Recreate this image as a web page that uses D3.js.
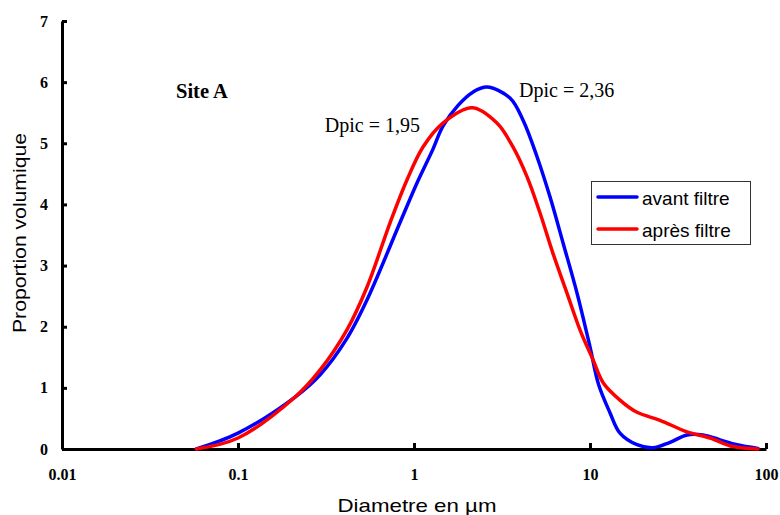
<!DOCTYPE html>
<html>
<head>
<meta charset="utf-8">
<script src="https://cdn.jsdelivr.net/npm/d3@7"></script>
<style>
  html, body { margin: 0; padding: 0; background: #fff; }
  svg { display: block; }
</style>
</head>
<body>
<svg id="chart" width="780" height="515"></svg>
<script>
// ---- data ----
const xTicks = [0.01, 0.1, 1, 10, 100];
const xTickLabels = ["0.01", "0.1", "1", "10", "100"];
const yTicks = [0, 1, 2, 3, 4, 5, 6, 7];

const diamAvant = [0.058, 0.1, 0.211, 0.292, 0.416, 0.541, 0.832, 1.04, 1.28, 1.46, 1.78, 2.17, 2.60, 3.51, 4.16, 5.0, 5.93, 7.03, 8.44, 10, 11.2, 13.0, 14.8, 18.5, 22.8, 28.5, 35.6, 43.8, 54.8, 68.4, 90];
const valAvant  = [0, 0.26, 0.85, 1.21, 1.81, 2.44, 3.7, 4.35, 4.9, 5.28, 5.62, 5.84, 5.92, 5.74, 5.38, 4.78, 4.12, 3.37, 2.55, 1.67, 1.05, 0.59, 0.26, 0.07, 0.02, 0.11, 0.23, 0.23, 0.15, 0.07, 0.01];

const diamApres = [0.058, 0.1, 0.211, 0.292, 0.416, 0.541, 0.731, 0.912, 1.125, 1.46, 2.14, 2.96, 3.65, 4.39, 5.2, 6.16, 7.40, 8.77, 10.4, 11.9, 14.8, 18.5, 25.0, 35.6, 48.1, 64.9, 90];
const valApres  = [0, 0.18, 0.85, 1.29, 1.95, 2.65, 3.7, 4.4, 4.94, 5.33, 5.58, 5.33, 4.94, 4.45, 3.86, 3.2, 2.55, 1.95, 1.46, 1.08, 0.8, 0.6, 0.47, 0.28, 0.18, 0.04, 0];

const seriesNames = ["avant filtre", "après filtre"];
const seriesColors = ["#0000ff", "#ff0000"];

// ---- chart ----
const svg = d3.select("#chart");
const x = d3.scaleLog().domain([0.01, 100]).range([62, 766]);
const y = d3.scaleLinear().domain([0, 7]).range([449, 21]);

const serif = "'Liberation Serif','Times New Roman',serif";
const sans = "'Liberation Sans',Arial,sans-serif";

// axes
const xAxis = d3.axisBottom(x).tickValues(xTicks)
  .tickFormat((d, i) => xTickLabels[i]).tickSizeInner(-6).tickSizeOuter(0).tickPadding(20);
const yAxis = d3.axisLeft(y).tickValues(yTicks)
  .tickFormat(d3.format("d")).tickSizeInner(-5).tickSizeOuter(0).tickPadding(14);

const gx = svg.append("g").attr("transform", "translate(0,449)").call(xAxis);
const gy = svg.append("g").attr("transform", "translate(62,0)").call(yAxis);

[gx, gy].forEach(g => {
  g.select(".domain").attr("stroke", "#000").attr("stroke-width", 3);
  g.selectAll(".tick line").attr("stroke", "#000").attr("stroke-width", 3);
  g.selectAll(".tick text").attr("fill", "#000")
    .style("font-family", serif).style("font-weight", "bold").style("font-size", "16px");
});

// lines
const line = d3.line().x(d => x(d[0])).y(d => Math.min(y(0), y(d[1])))
  .curve(d3.curveCatmullRom.alpha(0.5));
const dataAvant = diamAvant.map((d, i) => [d, valAvant[i]]);
const dataApres = diamApres.map((d, i) => [d, valApres[i]]);

svg.append("path").datum(dataAvant).attr("d", line)
  .attr("fill", "none").attr("stroke", seriesColors[0]).attr("stroke-width", 3.5)
  .attr("stroke-linejoin", "round").attr("stroke-linecap", "round");
svg.append("path").datum(dataApres).attr("d", line)
  .attr("fill", "none").attr("stroke", seriesColors[1]).attr("stroke-width", 3.5)
  .attr("stroke-linejoin", "round").attr("stroke-linecap", "round");

// axis titles
svg.append("text").attr("transform", "translate(26,233) rotate(-90)")
  .attr("text-anchor", "middle").style("font-family", sans).style("font-size", "19px")
  .attr("textLength", 200).attr("lengthAdjust", "spacingAndGlyphs")
  .text("Proportion volumique");
svg.append("text").attr("x", 417).attr("y", 512)
  .attr("text-anchor", "middle").style("font-family", sans).style("font-size", "19px")
  .attr("textLength", 159).attr("lengthAdjust", "spacingAndGlyphs")
  .text("Diametre en µm");

// annotations
svg.append("text").attr("x", 176).attr("y", 98)
  .style("font-family", serif).style("font-weight", "bold").style("font-size", "20.5px")
  .text("Site A");
svg.append("text").attr("x", 420).attr("y", 132).attr("text-anchor", "end")
  .style("font-family", serif).style("font-size", "20px").text("Dpic = 1,95");
svg.append("text").attr("x", 519).attr("y", 97)
  .style("font-family", serif).style("font-size", "20px").text("Dpic = 2,36");

// legend
const lg = svg.append("g");
lg.append("rect").attr("x", 591.5).attr("y", 181.5).attr("width", 159).attr("height", 63)
  .attr("fill", "#fff").attr("stroke", "#333").attr("stroke-width", 1);
seriesNames.forEach((name, i) => {
  const yy = 197 + i * 32;
  lg.append("line").attr("x1", 598).attr("x2", 637).attr("y1", yy).attr("y2", yy)
    .attr("stroke", seriesColors[i]).attr("stroke-width", 3.5).attr("stroke-linecap", "round");
  lg.append("text").attr("x", 642).attr("y", yy + 8)
    .style("font-family", sans).style("font-size", "19px").text(name);
});
</script>
</body>
</html>
